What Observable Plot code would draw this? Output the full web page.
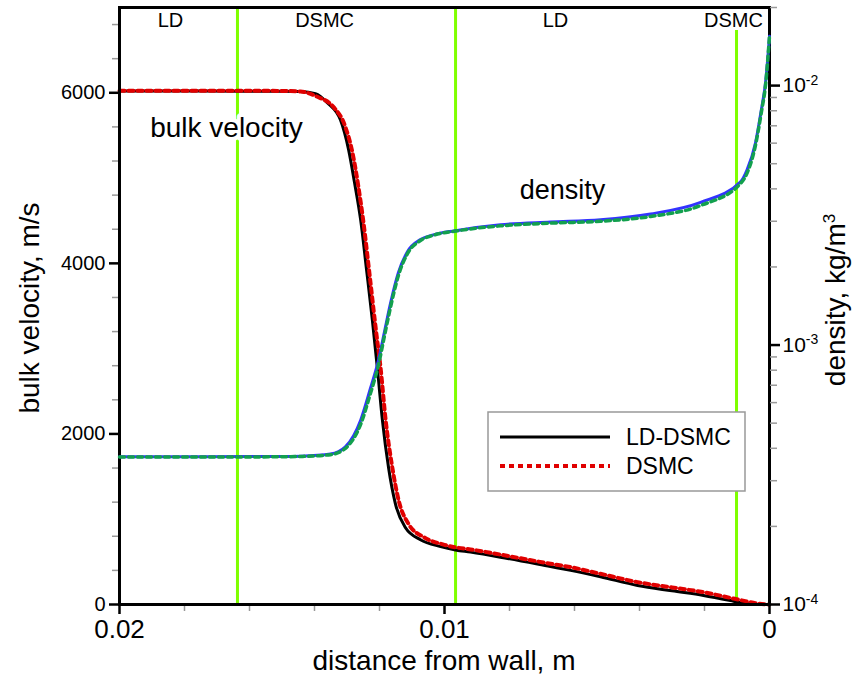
<!DOCTYPE html>
<html><head><meta charset="utf-8">
<script src="https://cdn.jsdelivr.net/npm/d3@7"></script>
<script src="https://cdn.jsdelivr.net/npm/@observablehq/plot@0.6"></script>
<style>
body{margin:0;background:#fff;}
#wrap{position:relative;width:862px;height:681px;font-family:"Liberation Sans",Arial,sans-serif;overflow:hidden;}
#wrap svg.plot{position:absolute;left:0;top:0;}
.title{position:absolute;font-size:28px;color:#000;white-space:nowrap;}
</style></head><body><div id="wrap"></div>
<script>
// ---- data: bulk velocity (m/s) vs distance from wall (m)
const velLdDist = [0.02,0.0175,0.015,0.01443,0.01397,0.0136,0.0132,0.01295,0.01277,0.01258,0.0124,0.01222,0.01206,0.01191,0.01172,0.01151,0.0112,0.01074,0.01012,0.00966,0.0092,0.00828,0.00674,0.00612,0.0052,0.00406,0.003,0.00203,0.00111,0.0008,0.0005,0];
const velLdVal  = [6020,6020,6018,6015,5990,5880,5680,5330,4950,4510,3930,3335,2750,2160,1600,1180,900,760,680,640,614,555,445,400,325,223,160,106,39,15,4,0];
const velDsDist = [0.02,0.0175,0.015,0.01443,0.01391,0.01342,0.01305,0.01283,0.01265,0.01249,0.0123,0.01212,0.01196,0.01181,0.01162,0.01141,0.0111,0.01064,0.01005,0.00966,0.0092,0.00828,0.00674,0.00612,0.0052,0.00406,0.003,0.00203,0.00111,0.00068,0.0003,0];
const velDsVal  = [6025,6025,6022,6015,5953,5835,5600,5295,4900,4470,3850,3250,2750,2160,1640,1220,940,790,705,670,646,585,478,438,360,262,200,144,70,35,8,0];
// ---- data: density (kg/m^3) vs distance from wall (m)
const rhoLdDist = [0.02,0.0175,0.015,0.01443,0.01351,0.01305,0.01258,0.01228,0.01203,0.01185,0.01166,0.01142,0.01114,0.01074,0.01034,0.00966,0.00828,0.00674,0.0052,0.00366,0.00212,0.00089,0.00069,0.00043,0.00025,0.00012,0];
const rhoLdVal  = [3.71e-4,3.71e-4,3.72e-4,3.73e-4,3.8e-4,4.05e-4,5.13e-4,6.8e-4,8.75e-4,1.12e-3,1.45e-3,1.9e-3,2.29e-3,2.55e-3,2.66e-3,2.76e-3,2.91e-3,2.98e-3,3.04e-3,3.2e-3,3.55e-3,4.26e-3,4.74e-3,6.02e-3,8.07e-3,1.03e-2,1.55e-2];
const rhoDsDist = [0.02,0.0175,0.015,0.01443,0.01351,0.01305,0.01258,0.01228,0.01203,0.01185,0.01166,0.01142,0.01114,0.01074,0.01034,0.00966,0.00828,0.00674,0.0052,0.00366,0.00212,0.00089,0.00069,0.00043,0.00025,0.00012,0];
const rhoDsVal  = [3.70e-4,3.70e-4,3.71e-4,3.72e-4,3.78e-4,4.0e-4,4.95e-4,6.5e-4,8.4e-4,1.08e-3,1.4e-3,1.85e-3,2.25e-3,2.53e-3,2.65e-3,2.75e-3,2.88e-3,2.95e-3,3.0e-3,3.13e-3,3.45e-3,4.2e-3,4.6e-3,5.9e-3,7.9e-3,1.01e-2,1.55e-2];
// ---- zone boundaries and labels
const zoneDist = [0.01637, 0.00966, 0.001015];
const zoneTop  = [7000, 7000, 6730];
const zoneLabels = ["LD", "DSMC", "LD", "DSMC"];
const zoneLabelDist = [0.01843, 0.01369, 0.006585, 0.001108];
// ---- ticks
const xMajorTicks = [0.02, 0.01, 0];
const xMinorTicks = [0.018,0.016,0.014,0.012,0.008,0.006,0.004,0.002];
const vMajorTicks = [0, 2000, 4000, 6000];
const vMinorTicks = [400,800,1200,1600,2400,2800,3200,3600,4400,4800,5200,5600,6400,6800];
const rhoMajorTicks = [1e-4, 1e-3, 1e-2];
const rhoMinorTicks = [2e-4,3e-4,4e-4,5e-4,6e-4,7e-4,8e-4,9e-4,2e-3,3e-3,4e-3,5e-3,6e-3,7e-3,8e-3,9e-3,2e-2];
const seriesNames = ["LD-DSMC", "DSMC"];

const zip = (xs, ys) => xs.map((x, i) => ({x, y: ys[i]}));
const velLD = zip(velLdDist, velLdVal), velDS = zip(velDsDist, velDsVal);
const rhoLD = zip(rhoLdDist, rhoLdVal), rhoDS = zip(rhoDsDist, rhoDsVal);
const zones = zoneDist.map((x, i) => ({x, top: zoneTop[i]}));
const zoneText = zoneLabels.map((t, i) => ({x: zoneLabelDist[i], y: 6850, t}));

const font = "'Liberation Sans', Arial, sans-serif";
const common = {width: 862, height: 681, marginTop: 7, marginRight: 93, marginBottom: 77, marginLeft: 119};

const p1 = Plot.plot({
  ...common,
  style: {fontFamily: font, background: "white", overflow: "visible"},
  x: {domain: [0.02, 0]},
  y: {domain: [0, 7000]},
  marks: [
    Plot.ruleX(zones, {x: "x", y1: 0, y2: "top", stroke: "#7fff00", strokeWidth: 3}),
    Plot.text(zoneText, {x: "x", y: "y", text: "t", fontSize: 20, fill: "black"}),
    Plot.text([{x: 0.01671, y: 5590, t: "bulk velocity"}], {x: "x", y: "y", text: "t", fontSize: 28, fill: "black", stroke: "white", strokeWidth: 8}),
    Plot.line(velLD, {x: "x", y: "y", stroke: "black", strokeWidth: 3, curve: "monotone-x"}),
    Plot.line(velDS, {x: "x", y: "y", stroke: "#e00000", strokeWidth: 4, strokeDasharray: "5,4", curve: "monotone-x"}),
    Plot.axisX({ticks: xMinorTicks, tickSize: 7, tickFormat: () => "", stroke: "#999", strokeWidth: 1.5, label: null}),
    Plot.axisX({ticks: xMajorTicks, tickSize: 10, tickPadding: 5, tickFormat: d => String(d), fontSize: 26, strokeWidth: 2.5, label: null}),
    Plot.axisY({ticks: vMinorTicks, tickSize: 7, tickFormat: () => "", stroke: "#999", strokeWidth: 1.5, label: null}),
    Plot.axisY({ticks: vMajorTicks, tickSize: 10, tickPadding: 4, tickFormat: d => String(d), fontSize: 20, strokeWidth: 2.5, label: null}),
    Plot.frame({stroke: "black", strokeWidth: 3})
  ]
});
p1.classList.add("plot");

const p2 = Plot.plot({
  ...common,
  style: {fontFamily: font, background: "transparent", overflow: "visible"},
  x: {domain: [0.02, 0], axis: null},
  y: {type: "log", domain: [1e-4, 2e-2], axis: null},
  marks: [
    Plot.line(rhoLD, {x: "x", y: "y", stroke: "#3333ff", strokeWidth: 3, curve: "monotone-x"}),
    Plot.line(rhoDS, {x: "x", y: "y", stroke: "#12a04e", strokeWidth: 3.5, strokeDasharray: "5,4", curve: "monotone-x"}),
    Plot.text([{x: 0.00637, y: 3.96e-3, t: "density"}], {x: "x", y: "y", text: "t", fontSize: 27, fill: "black"}),
    Plot.axisY({anchor: "right", ticks: rhoMinorTicks, tickSize: 7, tickFormat: () => "", stroke: "#999", strokeWidth: 1.5, label: null}),
    Plot.axisY({anchor: "right", ticks: rhoMajorTicks, tickSize: 10, tickPadding: 3, tickFormat: d => "10^" + Math.round(Math.log10(d)), fontSize: 21, strokeWidth: 2.5, label: null})
  ]
});
p2.classList.add("plot");

// exponent formatting
d3.select(p2).selectAll("text").each(function() {
  const t = this.textContent;
  if (t.startsWith("10^")) {
    const e = t.slice(3);
    const s = d3.select(this);
    s.text("10");
    s.append("tspan").attr("dy", "-0.55em").attr("font-size", "14px").text(e);
  }
});

const wrap = document.getElementById("wrap");
wrap.appendChild(p1);
wrap.appendChild(p2);

// legend
const lg = document.createElementNS("http://www.w3.org/2000/svg", "svg");
lg.setAttribute("width", 262); lg.setAttribute("height", 84);
lg.style.position = "absolute"; lg.style.left = "486px"; lg.style.top = "410px";
const lsel = d3.select(lg);
lsel.append("rect").attr("x", 2).attr("y", 2).attr("width", 257).attr("height", 79).attr("fill", "white").attr("stroke", "#999").attr("stroke-width", 1.5);
const styles = [{stroke: "black", w: 3, dash: null}, {stroke: "#e00000", w: 4, dash: "5,4"}];
seriesNames.forEach((n, i) => {
  const y = 27 + i * 29;
  lsel.append("line").attr("x1", 14).attr("x2", 124).attr("y1", y).attr("y2", y)
    .attr("stroke", styles[i].stroke).attr("stroke-width", styles[i].w).attr("stroke-dasharray", styles[i].dash);
  lsel.append("text").attr("x", 140).attr("y", y).attr("dy", "0.36em").attr("font-size", 23)
    .attr("font-family", font).text(n);
});
wrap.appendChild(lg);

// axis titles
const t1 = document.createElement("div");
t1.className = "title"; t1.textContent = "bulk velocity, m/s";
t1.style.left = "30px"; t1.style.top = "308px"; t1.style.transform = "translate(-50%,-50%) rotate(-90deg)";
wrap.appendChild(t1);
const t2 = document.createElement("div");
t2.className = "title"; t2.textContent = "distance from wall, m";
t2.style.left = "444px"; t2.style.top = "661px"; t2.style.transform = "translate(-50%,-50%)";
wrap.appendChild(t2);
const t3 = document.createElement("div");
t3.className = "title"; t3.innerHTML = "density, kg/m<sup style='font-size:17px'>3</sup>";
t3.style.left = "836px"; t3.style.top = "300px"; t3.style.transform = "translate(-50%,-50%) rotate(-90deg)";
wrap.appendChild(t3);
</script></body></html>
